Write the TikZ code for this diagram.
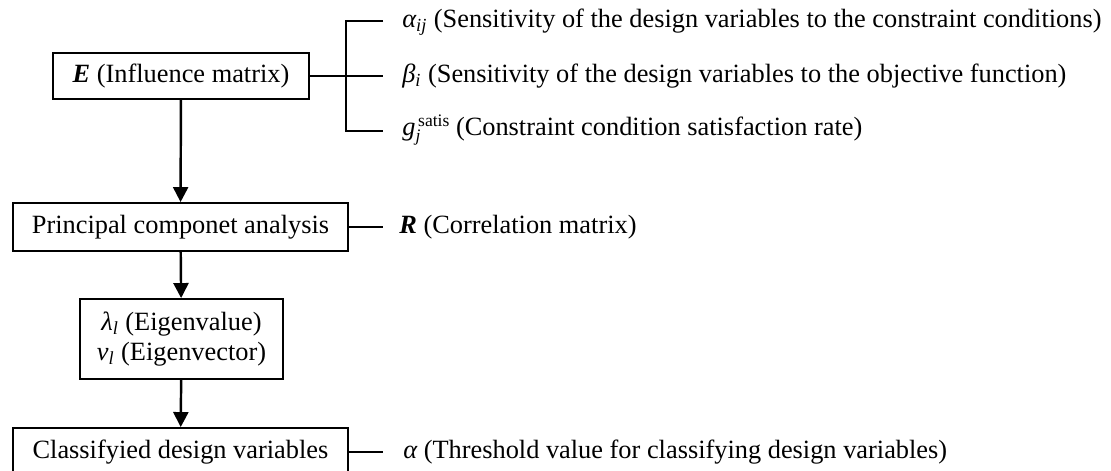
\documentclass[tikz,border=0pt]{standalone}
\usepackage{fontspec}
\setmainfont{Liberation Serif}
\usetikzlibrary{arrows.meta}

\begin{document}
\begin{tikzpicture}
  [every node/.style={font=\fontsize{15}{17}\selectfont},
  box/.style={rectangle,draw=black,line width=1.1pt,inner sep=0pt,
    minimum height=0.96cm,minimum width=6.7cm,align=center},
  note/.style={anchor=west,inner sep=0pt},
  flow/.style={-{Triangle[length=0.3cm,width=0.3cm]},line width=1.4pt},
  link/.style={line width=0.9pt}]

  \useasboundingbox (0,0) rectangle (22.22,-9.4);

  \node[box,minimum width=5.12cm,minimum height=0.92cm] (inf) at (3.62,-1.52)
    {\textbf{\textit{E}} (Influence matrix)};
  \node[box] (pca) at (3.61,-4.54) {Principal componet analysis};
  \node[box,minimum width=4.06cm,minimum height=1.6cm] (eig) at (3.63,-6.78)
    {{\itshape λ}\textsubscript{\itshape l} (Eigenvalue)\\
     {\itshape v}\textsubscript{\itshape l} (Eigenvector)};
  \node[box] (cls) at (3.61,-9.04) {Classifyied design variables};

  \draw[flow] (inf) -- (pca);
  \draw[flow] (pca) -- (eig);
  \draw[flow] (eig) -- (cls);

  % bracket of the influence matrix
  \coordinate (cn1) at (6.92,-0.42);
  \coordinate (cn3) at (6.92,-2.62);
  \coordinate (tip1) at (7.66,-0.42);
  \coordinate (tip2) at (7.66,-1.52);
  \coordinate (tip3) at (7.66,-2.62);
  \draw[link] (tip1) -- (cn1) -- (cn3) -- (tip3);
  \draw[link] (inf.east) -- (tip2);

  \node[note] (sen) at (8.04,-0.44)
    {{\itshape α}\textsubscript{\itshape ij} (Sensitivity of the design variables to the constraint conditions)};
  \node[note] (obj) at (8.04,-1.52)
    {{\itshape β}\textsubscript{\itshape i} (Sensitivity of the design variables to the objective function)};
  \node[note] (sat) at (8.04,-2.6)
    {{\itshape g}\rlap{\raisebox{-0.55ex}{\fontsize{10}{10}\selectfont\itshape j}}\hspace{0.1em}\raisebox{0.75ex}{\fontsize{10}{10}\selectfont satis} (Constraint condition satisfaction rate)};

  \coordinate (tip4) at (7.66,-4.54);
  \draw[link] (pca.east) -- (tip4);
  \node[note] (cor) at (7.98,-4.54) {\textbf{\textit{R}} (Correlation matrix)};

  \coordinate (tip5) at (7.66,-9.04);
  \draw[link] (cls.east) -- (tip5);
  \node[note] (thr) at (8.06,-9.04)
    {{\itshape α} (Threshold value for classifying design variables)};
\end{tikzpicture}
\end{document}
